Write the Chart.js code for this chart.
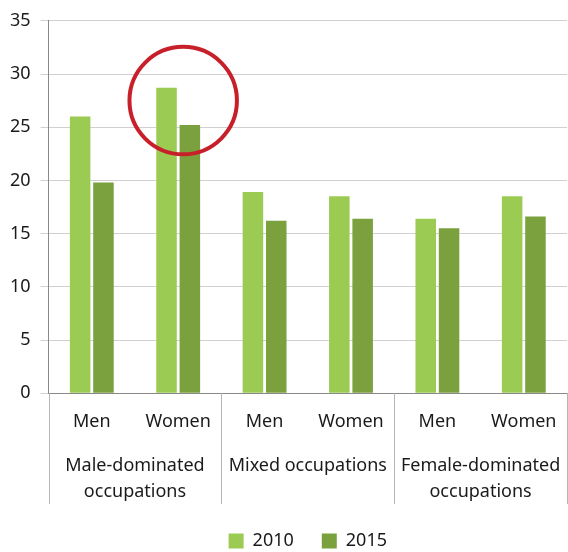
<!DOCTYPE html>
<html>
<head>
<meta charset="utf-8">
<script src="https://cdn.jsdelivr.net/npm/chart.js@4"></script>
<style>
    html, body { margin: 0; padding: 0; background: #fff; }
    #wrap { width: 568px; height: 552px; position: relative; }
</style>
</head>
<body>
<div id="wrap"><canvas id="chart"></canvas></div>
<script>
// data
const subCategories = ['Men', 'Women', 'Men', 'Women', 'Men', 'Women'];
const groupLabels = [['Male-dominated', 'occupations'], 'Mixed occupations', ['Female-dominated', 'occupations']];
const values2010 = [26.0, 28.7, 18.9, 18.5, 16.4, 18.5];
const values2015 = [19.8, 25.2, 16.2, 16.4, 15.5, 16.6];
const yTicks = [0, 5, 10, 15, 20, 25, 30, 35];

// highlight circle around the women / male-dominated pair
const highlightIndex = 1;
const highlightCenterValue = 27.5;
const highlightRadiusValue = 5.05;

const FONT = "'Noto Sans', sans-serif";
const TEXT = '#1a1a1a';

// vertical dividers between groups, below the x axis
const groupDividers = {
    id: 'groupDividers',
    afterDraw(chart) {
        const { ctx, chartArea, scales } = chart;
        const n = groupLabels.length;
        const w = (chartArea.right - chartArea.left) / n;
        ctx.save();
        ctx.strokeStyle = '#b5b5b5';
        ctx.lineWidth = 1;
        for (let i = 0; i <= n; i++) {
            const x = Math.round(chartArea.left + i * w) + 0.5;
            ctx.beginPath();
            ctx.moveTo(x, chartArea.bottom);
            ctx.lineTo(x, scales.x2.bottom);
            ctx.stroke();
        }
        ctx.restore();
    }
};

const highlightCircle = {
    id: 'highlightCircle',
    afterDatasetsDraw(chart) {
        const { ctx, scales } = chart;
        const cx = scales.x.getPixelForValue(highlightIndex) + 5;
        const cy = scales.y.getPixelForValue(highlightCenterValue);
        const r = scales.y.getPixelForValue(0) - scales.y.getPixelForValue(highlightRadiusValue);
        ctx.save();
        ctx.strokeStyle = '#c8202a';
        ctx.lineWidth = 4;
        ctx.beginPath();
        ctx.arc(cx, cy, r, 0, Math.PI * 2);
        ctx.stroke();
        ctx.restore();
    }
};

// labels may hang over the edges, like in the original
function noSidePadding(axis) {
    axis.paddingLeft = 0;
    axis.paddingRight = 0;
}

new Chart(document.getElementById('chart'), {
    type: 'bar',
    data: {
        labels: subCategories,
        datasets: [
            { label: '2010', data: values2010, backgroundColor: '#9bcb53' },
            { label: '2015', data: values2015, backgroundColor: '#7ba13e' }
        ]
    },
    options: {
        responsive: true,
        maintainAspectRatio: false,
        animation: false,
        layout: { padding: { top: 8, right: 1, left: 0, bottom: -8 } },
        datasets: { bar: { categoryPercentage: 0.54, barPercentage: 0.88 } },
        plugins: {
            tooltip: { enabled: false },
            legend: {
                position: 'bottom',
                fullSize: false,
                labels: {
                    font: { family: FONT, size: 18 },
                    color: TEXT,
                    boxWidth: 15,
                    boxHeight: 15,
                    padding: 28
                }
            }
        },
        scales: {
            x: {
                grid: { display: false, drawTicks: false },
                border: { color: '#888', width: 1 },
                ticks: { font: { family: FONT, size: 18 }, color: TEXT, padding: 18, maxRotation: 0 },
                afterFit: noSidePadding
            },
            x2: {
                type: 'category',
                labels: groupLabels,
                position: 'bottom',
                grid: { display: false, drawTicks: false },
                border: { display: false },
                ticks: { font: { family: FONT, size: 18, lineHeight: 1.45 }, color: TEXT, padding: 2, maxRotation: 0, autoSkip: false },
                afterFit(axis) {
                    noSidePadding(axis);
                    axis.height -= 3;
                }
            },
            y: {
                min: 0,
                max: 35,
                afterBuildTicks(axis) { axis.ticks = yTicks.map(v => ({ value: v })); },
                grid: { color: '#d0d0d0', tickLength: 8 },
                border: { color: '#888', width: 1 },
                ticks: { font: { family: FONT, size: 18 }, color: TEXT, padding: 10 }
            }
        }
    },
    plugins: [groupDividers, highlightCircle]
});
</script>
</body>
</html>
